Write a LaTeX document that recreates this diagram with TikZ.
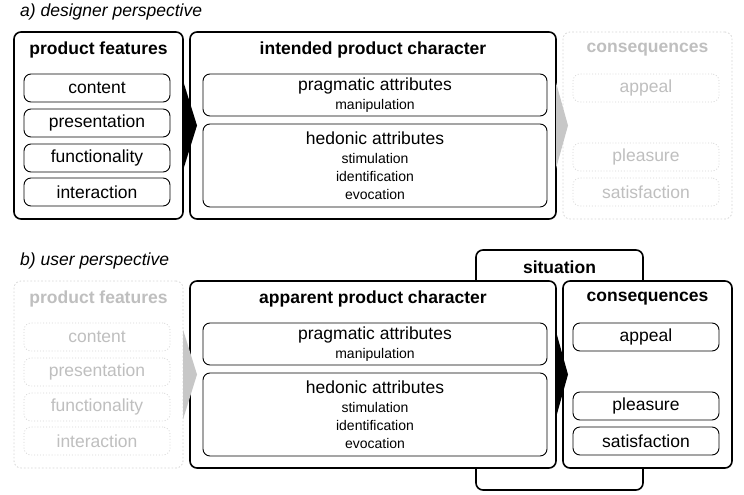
\documentclass[tikz,border=0pt]{standalone}
\usepackage{fontspec}
\setmainfont{Liberation Sans}
\usetikzlibrary{calc}

\definecolor{ghostline}{gray}{0.84}
\definecolor{ghosttext}{gray}{0.75}
\definecolor{ghostarrow}{gray}{0.78}

\tikzset{
    panel/.style={draw, line width=1.6pt, rounded corners=7pt, fill=white,
        anchor=north west, inner sep=0pt, outer sep=0pt},
    item/.style={draw, line width=0.9pt, rounded corners=7pt, fill=white,
        anchor=north west, inner sep=0pt, outer sep=0pt,
        minimum width=146pt, minimum height=28pt,
        font=\fontsize{17.5}{20}\selectfont},
    attr/.style={item, minimum width=344pt, align=center,
        font=\fontsize{14}{18}\selectfont},
    ghost/.style={draw=ghostline, dotted, line width=0.8pt, text=ghosttext},
    heading/.style={font=\bfseries\fontsize{17.5}{20}\selectfont, inner sep=0pt},
    caption/.style={font=\itshape\fontsize{17.5}{20}\selectfont, anchor=west, inner sep=0pt}
}
\newcommand{\attrhead}[1]{{\fontsize{17.5}{20}\selectfont #1}\\[1pt]}

\begin{document}
\begin{tikzpicture}[x=1pt, y=-1pt]
    \useasboundingbox (0,0) rectangle (744,495);

    % a) designer perspective
    \node[caption] (capA) at (20,12) {a) designer perspective};

    \node[panel, minimum width=169pt, minimum height=187pt] (pfA) at (14,32) {};
    \node[heading] (pfAt) at ([yshift=-18pt]pfA.north) {product features};
    \node[item] (contentA) at (24,74) {content};
    \node[item] (presA) at (24,109) {presentation};
    \node[item] (funcA) at (24,144) {functionality};
    \node[item] (interA) at (24,178) {interaction};

    \node[panel, minimum width=366pt, minimum height=187pt] (ipcA) at (190,32) {};
    \node[heading] (ipcAt) at ([yshift=-18pt]ipcA.north) {intended product character};
    \node[attr, minimum height=42pt] (pragA) at (203,74)
        {\attrhead{pragmatic attributes}manipulation};
    \node[attr, minimum height=83pt] (hedA) at (203,124)
        {\attrhead{hedonic attributes}stimulation\\identification\\evocation};

    \node[panel, ghost, minimum width=169pt, minimum height=187pt] (conA) at (563,32) {};
    \node[heading, text=ghosttext] (conAt) at ([yshift=-18pt]conA.north) {consequences};
    \node[item, ghost] (appealA) at (573,74) {appeal};
    \node[item, ghost] (pleasA) at (573,143) {pleasure};
    \node[item, ghost] (satisA) at (573,178) {satisfaction};

    \fill ($(pfA.east)+(0,-45)$) -- ($(pfA.east)+(14,0)$) -- ($(pfA.east)+(0,45)$) -- cycle;
    \fill[ghostarrow] ($(ipcA.east)+(0,-43)$) -- ($(ipcA.east)+(12,0)$) -- ($(ipcA.east)+(0,43)$) -- cycle;

    % b) user perspective
    \node[caption] (capB) at (20,261) {b) user perspective};

    \node[panel, minimum width=167pt, minimum height=240pt] (sitB) at (476,250) {};
    \node[heading] (sitBt) at ([yshift=-17pt]sitB.north) {situation};

    \node[panel, ghost, minimum width=169pt, minimum height=187pt] (pfB) at (14,281) {};
    \node[heading, text=ghosttext] (pfBt) at ([yshift=-18pt]pfB.north) {product features};
    \node[item, ghost] (contentB) at (24,323) {content};
    \node[item, ghost] (presB) at (24,358) {presentation};
    \node[item, ghost] (funcB) at (24,393) {functionality};
    \node[item, ghost] (interB) at (24,427) {interaction};

    \node[panel, minimum width=366pt, minimum height=187pt] (apcB) at (190,281) {};
    \node[heading] (apcBt) at ([yshift=-18pt]apcB.north) {apparent product character};
    \node[attr, minimum height=42pt] (pragB) at (203,323)
        {\attrhead{pragmatic attributes}manipulation};
    \node[attr, minimum height=83pt] (hedB) at (203,373)
        {\attrhead{hedonic attributes}stimulation\\identification\\evocation};

    \node[panel, minimum width=169pt, minimum height=187pt] (conB) at (563,281) {};
    \node[heading] (conBt) at ([yshift=-18pt]conB.north) {consequences};
    \node[item] (appealB) at (573,323) {appeal};
    \node[item] (pleasB) at (573,392) {pleasure};
    \node[item] (satisB) at (573,427) {satisfaction};

    \fill[ghostarrow] ($(pfB.east)+(0,-45)$) -- ($(pfB.east)+(14,0)$) -- ($(pfB.east)+(0,45)$) -- cycle;
    \fill ($(apcB.east)+(0,-43)$) -- ($(apcB.east)+(12,0)$) -- ($(apcB.east)+(0,43)$) -- cycle;
\end{tikzpicture}
\end{document}
